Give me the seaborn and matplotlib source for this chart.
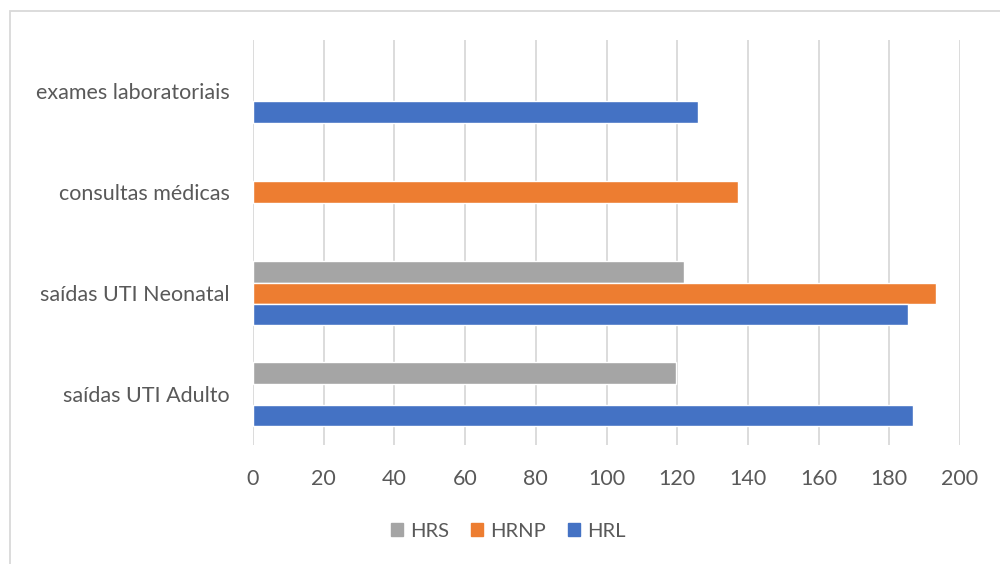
import numpy as np
import pandas as pd
import matplotlib.pyplot as plt
import seaborn as sns
from matplotlib.patches import Rectangle

# Categories (top to bottom as drawn) and values per series
categorias = ["exames laboratoriais", "consultas médicas", "saídas UTI Neonatal", "saídas UTI Adulto"]
hrs = [np.nan, np.nan, 122.0, 119.8]
hrnp = [np.nan, 137.2, 193.3, np.nan]
hrl = [125.9, np.nan, 185.2, 186.6]
series = ["HRS", "HRNP", "HRL"]
cores = ["#A5A5A5", "#ED7D31", "#4472C4"]

# Long format table for seaborn
df = pd.DataFrame({
    "categoria": categorias * 3,
    "serie": ["HRS"] * 4 + ["HRNP"] * 4 + ["HRL"] * 4,
    "valor": hrs + hrnp + hrl,
})

sns.set_theme(style="white")
plt.rcParams["font.family"] = ["Lato", "DejaVu Sans"]
texto = "#595959"

fig = plt.figure(figsize=(10, 5.64), dpi=100)
ax = fig.add_axes([0.253, 0.211, 0.707, 0.718])

sns.barplot(data=df, y="categoria", x="valor", hue="serie", order=categorias,
            hue_order=series, palette=cores, width=0.63, gap=0, orient="h",
            errorbar=None, ax=ax, saturation=1, legend=True)

ax.set_xlim(0, 200)
ax.set_ylim(3.5, -0.5)
ax.set_xticks(range(0, 201, 20))
ax.xaxis.grid(True, color="#D9D9D9", linewidth=1.3)
ax.set_axisbelow(True)
for s in ax.spines.values():
    s.set_visible(False)
ax.set_xlabel("")
ax.set_ylabel("")
ax.tick_params(axis="x", length=0, pad=17, labelsize=15.5, labelcolor=texto)
ax.tick_params(axis="y", length=0, pad=17, labelsize=15.5, labelcolor=texto)

# Legend at the bottom
ax.legend_.remove()
handles = [Rectangle((0, 0), 1, 1, color=c) for c in cores]
fig.legend(handles, series, loc="center", bbox_to_anchor=(0.508, 0.058), ncol=3,
           frameon=False, fontsize=14.5, labelcolor=texto, handlelength=0.6,
           handleheight=0.6, handletextpad=0.35, columnspacing=1.1)

# Light frame around the chart area
fig.patches.append(Rectangle((0.0095, -0.05), 1.1, 1.03, transform=fig.transFigure,
                             fill=False, edgecolor="#D9D9D9", linewidth=1.3))

fig.savefig("out.png", dpi=100)
